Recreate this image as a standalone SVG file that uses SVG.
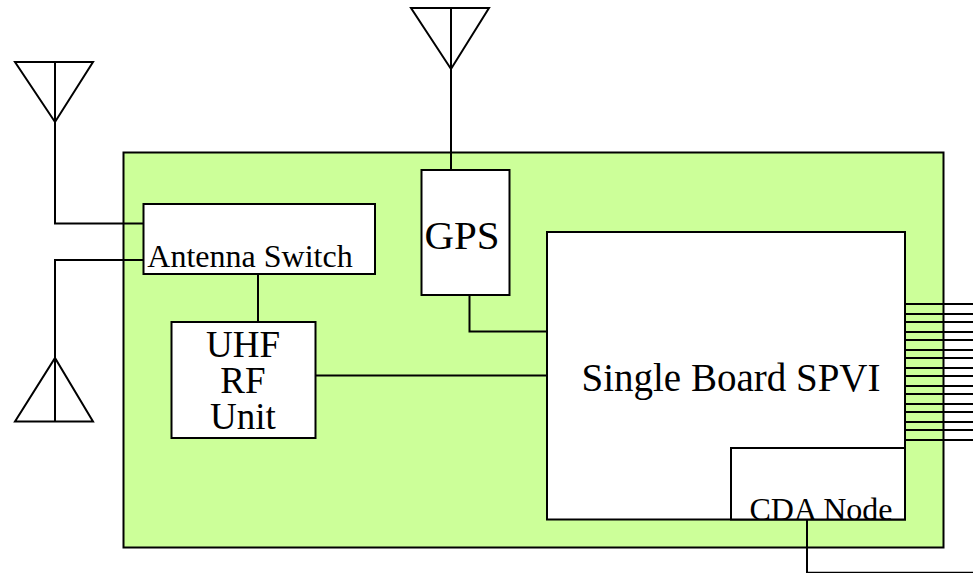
<svg xmlns="http://www.w3.org/2000/svg" width="973" height="573" viewBox="0 0 973 573">
<style>
.s{fill:none;stroke:#000;stroke-width:2}
.b{fill:#fff;stroke:#000;stroke-width:2}
text{font-family:"Liberation Serif","Times New Roman",serif;fill:#000;text-anchor:middle}
</style>
<rect width="973" height="573" fill="#fff"/>
<g id="chassis"><rect x="123.500" y="152.500" width="820" height="395" fill="#ccff99" stroke="#000" stroke-width="2"/></g>
<g id="connectors">
<path class="s" d="M55 122V223.500H143"/>
<path class="s" d="M55 358V260H143"/>
<path class="s" d="M451 69V170"/>
<path class="s" d="M258 274V322"/>
<path class="s" d="M469.500 295V331.500H547"/>
<path class="s" d="M315 375.500H547"/>
<path class="s" d="M807 520V572.800H973"/>
<path class="s" d="M905 304H973M905 314H973M905 322H973M905 332H973M905 340H973M905 350H973M905 358H973M905 368H973M905 376H973M905 386H973M905 394H973M905 404H973M905 412H973M905 422H973M905 430H973M905 440H973"/>
</g>
<g id="antenna-1"><path class="s" d="M15 62H93L55 122L15 62ZM55 62V122"/></g>
<g id="antenna-2"><path class="s" d="M15 421.500H93L55 358L15 421.500ZM55 421.500V358"/></g>
<g id="antenna-gps"><path class="s" d="M411 8H489L451 69L411 8ZM451 8V69"/></g>
<g id="antenna-switch"><rect class="b" x="143.500" y="204" width="231.500" height="70"/><text x="250" y="267" font-size="32">Antenna Switch</text></g>
<g id="gps"><rect class="b" x="421.500" y="170" width="88" height="125"/><text x="462" y="249" font-size="41">GPS</text></g>
<g id="uhf-rf-unit"><rect class="b" x="171.500" y="322" width="144" height="116"/><text x="243" y="357" font-size="37"><tspan x="243">UHF</tspan><tspan x="243" dy="36">RF</tspan><tspan x="243" dy="36">Unit</tspan></text></g>
<g id="single-board-spvi"><rect class="b" x="547" y="232" width="358" height="287.500"/><text x="731" y="391" font-size="39">Single Board SPVI</text></g>
<g id="cda-node"><rect class="b" x="731" y="448" width="174" height="71.500"/><text x="821" y="520" font-size="32">CDA Node</text></g>
</svg>
